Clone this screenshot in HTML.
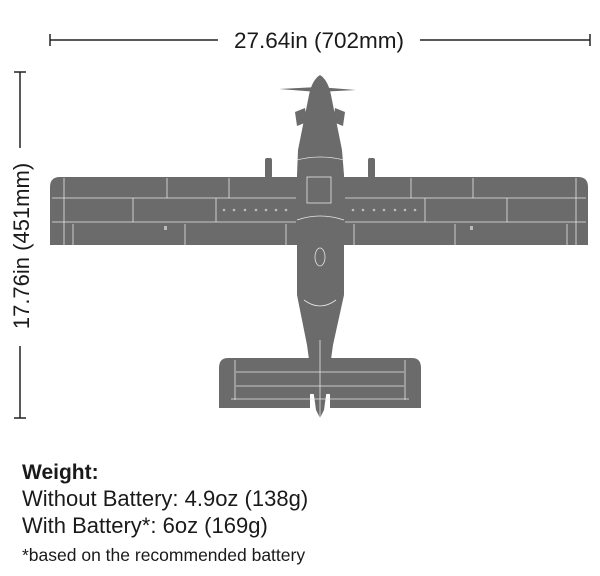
<!DOCTYPE html>
<html><head><meta charset="utf-8"><style>
html,body{margin:0;padding:0;background:#fff;}
svg{display:block;}
text{font-family:"Liberation Sans",sans-serif;fill:#1a1a1a;}
</style></head><body>
<svg width="600" height="576" viewBox="0 0 600 576" xmlns="http://www.w3.org/2000/svg">
<line x1="50" y1="40" x2="218" y2="40" stroke="#222" stroke-width="1.5"/>
<line x1="50" y1="34" x2="50" y2="46" stroke="#222" stroke-width="1.5"/>
<line x1="420" y1="40" x2="590" y2="40" stroke="#222" stroke-width="1.5"/>
<line x1="590" y1="34" x2="590" y2="46" stroke="#222" stroke-width="1.5"/>
<text x="319" y="48" font-size="22.5" text-anchor="middle">27.64in (702mm)</text>
<line x1="20" y1="72" x2="20" y2="148" stroke="#222" stroke-width="1.5"/>
<line x1="14" y1="72" x2="26" y2="72" stroke="#222" stroke-width="1.5"/>
<line x1="20" y1="346" x2="20" y2="418" stroke="#222" stroke-width="1.5"/>
<line x1="14" y1="418" x2="26" y2="418" stroke="#222" stroke-width="1.5"/>
<text transform="translate(29,246) rotate(-90)" font-size="22" text-anchor="middle">17.76in (451mm)</text>

<g fill="#6b6b6b" stroke="none">
<path d="M279 89 L318 87 L356 90 L318 92 Z"/>
<path d="M295 112 L305 108 L307 122 L297 126 Z"/>
<path d="M345 112 L335 108 L333 122 L343 126 Z"/>
<rect x="265" y="158" width="7" height="20" rx="2"/>
<rect x="368" y="158" width="7" height="20" rx="2"/>
<path d="M60 177 L578 177 Q588 177 588 187 L588 245 L50 245 L50 187 Q50 177 60 177 Z"/>
<path d="M228 358 L412 358 Q421 358 421 368 L421 408 L330 408 L330 394 L310 394 L310 408 L219 408 L219 368 Q219 358 228 358 Z"/>
<path d="M320 75 Q328 80 331 95 L342 150 L344 175 L344 295 L333 345 L324 410 L320 418 L316 410 L307 345 L297 295 L297 175 L298 150 L309 95 Q312 80 320 75 Z"/>
</g>
<g stroke="#e6e6e6" stroke-width="0.8" fill="none">
<line x1="52" y1="198" x2="296" y2="198"/><line x1="345" y1="198" x2="586" y2="198"/>
<line x1="52" y1="222" x2="296" y2="222"/><line x1="345" y1="222" x2="586" y2="222"/>
<line x1="64" y1="178" x2="64" y2="245"/><line x1="576" y1="178" x2="576" y2="245"/>
<line x1="167" y1="178" x2="167" y2="198"/><line x1="229" y1="178" x2="229" y2="198"/>
<line x1="133" y1="198" x2="133" y2="222"/><line x1="216" y1="198" x2="216" y2="222"/>
<line x1="411" y1="178" x2="411" y2="198"/><line x1="473" y1="178" x2="473" y2="198"/>
<line x1="425" y1="198" x2="425" y2="222"/><line x1="507" y1="198" x2="507" y2="222"/>
<line x1="73" y1="224" x2="73" y2="245"/><line x1="185" y1="224" x2="185" y2="245"/><line x1="286" y1="224" x2="286" y2="245"/>
<line x1="354" y1="224" x2="354" y2="245"/><line x1="455" y1="224" x2="455" y2="245"/><line x1="567" y1="224" x2="567" y2="245"/>
<path d="M297 160 Q320 154 344 160"/>
<path d="M297 220 Q320 212 344 220"/>
<path d="M304 300 Q320 312 336 300"/>
<ellipse cx="320" cy="257" rx="5" ry="9"/>
<rect x="307" y="177" width="24" height="26"/>
<line x1="236" y1="372" x2="404" y2="372"/>
<line x1="236" y1="386" x2="404" y2="386"/>
<line x1="235" y1="360" x2="235" y2="400"/><line x1="405" y1="360" x2="405" y2="400"/>
<line x1="231" y1="399" x2="409" y2="399"/>
<line x1="320" y1="340" x2="320" y2="418"/>
</g>
<g fill="#bbb">
<circle cx="224" cy="210" r="1.3"/><circle cx="234" cy="210" r="1.3"/><circle cx="245" cy="210" r="1.3"/><circle cx="256" cy="210" r="1.3"/><circle cx="266" cy="210" r="1.3"/><circle cx="276" cy="210" r="1.3"/><circle cx="286" cy="210" r="1.3"/>
<circle cx="353" cy="210" r="1.3"/><circle cx="363" cy="210" r="1.3"/><circle cx="374" cy="210" r="1.3"/><circle cx="384" cy="210" r="1.3"/><circle cx="395" cy="210" r="1.3"/><circle cx="405" cy="210" r="1.3"/><circle cx="415" cy="210" r="1.3"/>
<rect x="164" y="226" width="3" height="4"/><rect x="470" y="226" width="3" height="4"/>
</g>

<text x="22" y="479" font-size="21" font-weight="bold">Weight:</text>
<text x="22" y="506" font-size="22">Without Battery: 4.9oz (138g)</text>
<text x="22" y="533" font-size="22">With Battery*: 6oz (169g)</text>
<text x="22" y="561" font-size="17.5">*based on the recommended battery</text>
</svg>
</body></html>
